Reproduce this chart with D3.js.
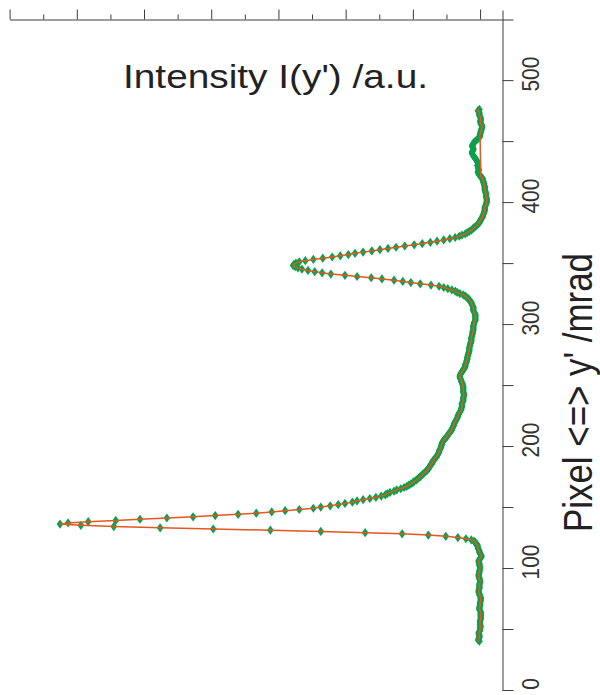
<!DOCTYPE html>
<html><head><meta charset="utf-8">
<script src="https://cdn.jsdelivr.net/npm/d3@7"></script>
<style>html,body{margin:0;padding:0;background:#fff;} svg{display:block;}</style>
</head><body><svg id="chart" width="600" height="695"></svg>
<script>
// ---- data ----
const pixelFirst = 40; // first pixel y' of the profile; one value per pixel
const intensity = [
 1,3,2,1,1,1,2,2,1,0,
 0,0,-1,0,0,0,0,0,-1,-1,
 -1,-1,-1,-1,-1,0,1,1,1,0,
 0,0,0,-1,-1,-1,-1,0,1,1,
 2,2,2,1,1,1,1,1,0,0,
 0,1,1,2,2,2,1,1,1,0,
 0,0,1,1,1,2,2,1,0,-2,
 -2,-1,0,1,1,2,3,3,4,4,
 6,7,9,13,21,33,51,77,116,171,
 237,312,397,476,545,594,625,613,583,542,
 506,466,427,394,360,333,310,290,269,248,
 237,223,211,201,190,183,174,164,155,147,
 141,138,134,128,124,118,113,109,106,103,
 100,98,95,93,91,89,87,85,83,81,
 79,77,77,75,74,73,71,71,70,68,
 67,65,64,63,62,61,61,60,59,58,
 58,57,57,56,55,54,52,50,49,48,
 47,45,44,42,42,41,40,39,39,38,
 37,36,35,34,33,33,32,31,30,29,
 28,28,27,27,27,27,26,25,25,25,
 25,24,24,24,25,25,25,25,25,25,
 26,26,27,28,28,29,30,30,30,29,
 28,27,25,25,23,22,22,22,21,20,
 20,19,19,19,18,18,17,17,16,16,
 16,16,15,15,14,14,13,13,13,13,
 12,12,11,11,11,10,10,10,10,10,
 9,9,8,7,7,7,7,7,7,8,
 9,10,10,10,10,11,12,13,13,15,
 16,18,20,22,25,30,34,37,42,48,
 54,61,73,89,103,115,128,146,162,183,
 201,222,235,246,256,265,271,275,278,277,
 274,269,260,248,234,220,208,196,186,174,
 161,149,137,125,112,98,86,74,64,54,
 45,37,31,27,22,19,16,13,11,9,
 7,5,3,1,1,-1,-1,-3,-4,-4,
 -5,-6,-6,-7,-7,-7,-7,-8,-9,-9,
 -10,-10,-10,-10,-9,-9,-9,-9,-8,-8,
 -7,-7,-7,-7,-6,-6,-5,-5,-4,-4,
 -3,-1,1,2,3,3,2,2,3,3,
 4,3,3,4,5,6,7,9,10,11,
 12,12,11,10,10,11,12,11,10,9,
 7,5,3,1,0,0,0,-1,-1,-2,
 -2,-3,-3,-3,-1,-1,0,-1,-1,-1,
 0,1,1,1,2,3,1
];
const lineGap = [422, 453];            // pixels not joined by the line (straight segment across)
const pixelTicks = [0,50,100,150,200,250,300,350,400,450,500];
const pixelLabelValues = [0,100,200,300,400,500];
const pixelLabels = ["0","100","200","300","400","500"];
const intensityMajor = [0,100,200,300,400,500,600,700];
const intensityMinor = [50,150,250,350,450,550,650];
const pixelAxisAt = -33;   // intensity value where the pixel axis crosses
const titleTop = "Intensity I(y') /a.u.";
const titleRight = "Pixel <=> y' /mrad";

// ---- drawing ----
const svg = d3.select("#chart");
const font = "'Liberation Sans', Arial, Helvetica, sans-serif";
const axisColor = "#3c3c3c";

const x = d3.scaleLinear().domain([-49, 700]).range([513, 9.6]);   // intensity -> horizontal (increasing leftwards)
const y = d3.scaleLinear().domain([0, 557.5]).range([690, 10]);   // pixel -> vertical
const topAxisPixel = 550;

const pts = intensity.map((v, i) => ({p: pixelFirst + i, v}));

// markers
const diamond = "M0,-4.6L3.4,0L0,4.6L-3.4,0Z";
svg.append("g").selectAll("path").data(pts).join("path")
  .attr("d", diamond)
  .attr("transform", d => `translate(${x(d.v)},${y(d.p)})`)
  .attr("fill", "#0aa04e");

// line
const linePts = pts.filter(d => d.p < lineGap[0] || d.p > lineGap[1]);
svg.append("path").datum(linePts)
  .attr("d", d3.line().x(d => x(d.v)).y(d => y(d.p)))
  .attr("fill", "none")
  .attr("stroke", "#e4571f")
  .attr("stroke-width", 1.5)
  .attr("stroke-linejoin", "round");

// top axis (intensity, unlabelled)
const topY = Math.round(y(topAxisPixel)) + 0.5;
const gTop = svg.append("g").attr("transform", `translate(0,${topY})`);
gTop.call(d3.axisTop(x).tickValues(intensityMajor).tickSize(10).tickSizeOuter(0).tickFormat(""));
const gTopMinor = svg.append("g").attr("transform", `translate(0,${topY})`);
gTopMinor.call(d3.axisTop(x).tickValues(intensityMinor).tickSize(5).tickSizeOuter(0).tickFormat(""));
gTopMinor.select(".domain").remove();

// right axis (pixel)
const axisX = Math.round(x(pixelAxisAt)) + 0.5;
const gRight = svg.append("g").attr("transform", `translate(${axisX},0)`);
gRight.call(d3.axisRight(y).tickValues(pixelTicks).tickSize(11).tickSizeOuter(0).tickFormat(""));

[gTop, gTopMinor, gRight].forEach(g => {
  g.selectAll(".domain").attr("stroke", axisColor).attr("stroke-width", 1);
  g.selectAll(".tick line").attr("stroke", axisColor).attr("stroke-width", 1);
});

// right axis labels (rotated)
const labelX = axisX + 36;
svg.append("g").selectAll("text").data(pixelLabelValues).join("text")
  .attr("transform", (d) => `translate(${labelX},${y(d) - 6}) rotate(-90) scale(0.91,1)`)
  .attr("text-anchor", "middle")
  .attr("font-family", font)
  .attr("font-size", 23)
  .attr("fill", "#333")
  .text((d, i) => pixelLabels[i]);

// titles
svg.append("text")
  .attr("x", 123).attr("y", 88)
  .attr("font-family", font)
  .attr("font-size", 32.5)
  .attr("fill", "#222")
  .attr("textLength", 305)
  .attr("lengthAdjust", "spacingAndGlyphs")
  .text(titleTop);

svg.append("text")
  .attr("transform", "translate(592,532) rotate(-90)")
  .attr("font-family", font)
  .attr("font-size", 40)
  .attr("fill", "#222")
  .attr("textLength", 279)
  .attr("lengthAdjust", "spacingAndGlyphs")
  .text(titleRight);
</script>
</body></html>
